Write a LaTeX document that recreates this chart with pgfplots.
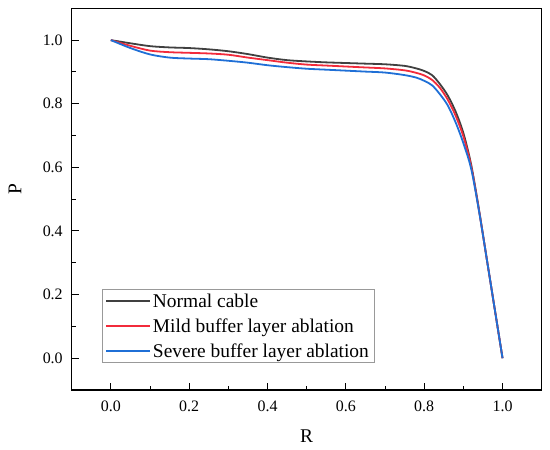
\documentclass[border=0pt]{standalone}
\usepackage{pgfplots}
\pgfplotsset{compat=1.18}
\usepackage{fontspec}
\setmainfont{Liberation Serif}
\definecolor{cblack}{HTML}{404040}
\definecolor{cred}{HTML}{F22B3B}
\definecolor{cblue}{HTML}{1F6FD6}
\begin{document}
\begin{tikzpicture}
\begin{axis}[name=ax, scale only axis, width=470bp, height=381.7bp,
  xmin=-0.1, xmax=1.1, ymin=-0.1, ymax=1.1,
  xtick={0,0.2,0.4,0.6,0.8,1.0}, ytick={0,0.2,0.4,0.6,0.8,1.0},
  xticklabels={0.0,0.2,0.4,0.6,0.8,1.0}, yticklabels={0.0,0.2,0.4,0.6,0.8,1.0},
  minor tick num=1, tick align=inside, tick pos=left,
  major tick length=7bp, minor tick length=4bp,
  tick style={black, line width=1bp},
  axis line style={line width=1.2bp},
  tick label style={font=\fontsize{16}{19}\selectfont},
  yticklabel style={xshift=-5.5bp},
  xticklabel style={yshift=-7bp},
  xlabel={R}, ylabel={P},
  label style={font=\fontsize{19.5}{24}\selectfont},
  xlabel style={at={(rel axis cs:0.5,-0.1205)}, anchor=center},
  ylabel style={at={(rel axis cs:-0.1206,0.527)}, anchor=center},
  legend style={at={(rel axis cs:0.064,0.070)}, anchor=south west, draw=gray!80, line width=0.8bp,
    font=\fontsize{19.5}{22}\selectfont, inner xsep=3bp, inner ysep=2bp, row sep=6bp, cells={anchor=west}},
  legend image code/.code={\draw[#1] (0bp,0bp) -- (44bp,0bp);},
]
\addplot[cblack, line width=1.8bp, smooth] coordinates {
(0,1.0) (0.05,0.990) (0.1,0.981) (0.15,0.977) (0.2,0.975) (0.25,0.971) (0.3,0.965) (0.35,0.956)
(0.4,0.945) (0.45,0.937) (0.5,0.933) (0.55,0.930) (0.6,0.928) (0.65,0.926) (0.7,0.924) (0.75,0.919)
(0.78,0.911) (0.8,0.903) (0.82,0.890) (0.84,0.862) (0.86,0.826) (0.88,0.776) (0.9,0.708) (0.92,0.608)
(0.94,0.466) (0.96,0.310) (0.98,0.155) (1.0,0.0)};
\addlegendentry{Normal cable}
\addplot[cred, line width=1.8bp, smooth] coordinates {
(0,1.0) (0.05,0.982) (0.1,0.967) (0.15,0.962) (0.2,0.960) (0.25,0.958) (0.3,0.954) (0.35,0.945)
(0.4,0.937) (0.45,0.929) (0.5,0.923) (0.55,0.920) (0.6,0.917) (0.65,0.914) (0.7,0.911) (0.75,0.905)
(0.78,0.897) (0.8,0.889) (0.82,0.875) (0.84,0.850) (0.86,0.813) (0.88,0.763) (0.9,0.697) (0.92,0.603)
(0.94,0.464) (0.96,0.310) (0.98,0.155) (1.0,0.0)};
\addlegendentry{Mild buffer layer ablation}
\addplot[cblue, line width=1.8bp, smooth] coordinates {
(0,1.0) (0.05,0.975) (0.1,0.955) (0.15,0.945) (0.2,0.942) (0.25,0.940) (0.3,0.935) (0.35,0.929)
(0.4,0.921) (0.45,0.915) (0.5,0.910) (0.55,0.907) (0.6,0.904) (0.65,0.901) (0.7,0.898) (0.75,0.890)
(0.78,0.882) (0.8,0.872) (0.82,0.858) (0.84,0.830) (0.86,0.795) (0.88,0.742) (0.9,0.676) (0.92,0.595)
(0.94,0.462) (0.96,0.310) (0.98,0.155) (1.0,0.0)};
\addlegendentry{Severe buffer layer ablation}
\end{axis}
\pgfresetboundingbox
\path[use as bounding box] ([shift={(-71.7bp,-60bp)}]ax.south west) rectangle ([shift={(8.3bp,8.3bp)}]ax.north east);
\end{tikzpicture}
\end{document}
